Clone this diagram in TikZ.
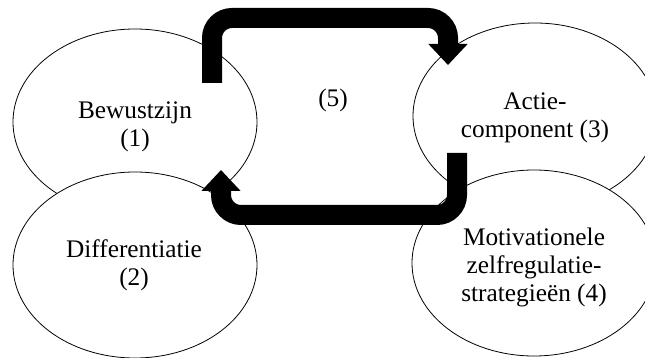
\documentclass[tikz,border=0pt]{standalone}
\usepackage{fontspec}
\setmainfont{Liberation Serif}
\usetikzlibrary{shapes.geometric,arrows.meta}
\begin{document}
\begin{tikzpicture}[x=1pt,y=-1pt,
  ell/.style={ellipse,draw=black,line width=0.8pt,fill=white,minimum width=244pt,minimum height=186pt,inner sep=0pt},
  txt/.style={align=center,inner sep=0pt,font=\fontsize{25.3}{28}\selectfont},
  bigarrow/.style={line width=20pt,rounded corners=20pt,-{Triangle[length=21pt,width=38pt]}}]
\clip (0,0) rectangle (645,358);
\fill[white] (0,0) rectangle (645,358);
% ellipses
\node[ell] (e1) at (135,122) {};
\node[ell] (e2) at (135,265) {};
\node[ell] (e3) at (535,116) {};
\node[ell] (e4) at (534,263) {};
% texts
\node[txt] (t1) at (135,127) {Bewustzijn\\(1)};
\node[txt] (t2) at (134,265) {Differentiatie\\(2)};
\node[txt] (t3) at (535,118) {Actie-\\component (3)};
\node[txt] (t4) at (534,267) {Motivationele\\zelfregulatie-\\strategieën (4)};
\node[txt] (t5) at (333,100) {(5)};
% arrows
\coordinate (a1s) at (212,83);
\coordinate (a1e) at (448,65);
\coordinate (a2s) at (457,153);
\coordinate (a2e) at (221,170);
\draw[bigarrow] (a1s) |- (330,18) -| (a1e);
\draw[bigarrow] (a2s) |- (340,215) -| (a2e);
\end{tikzpicture}
\end{document}
